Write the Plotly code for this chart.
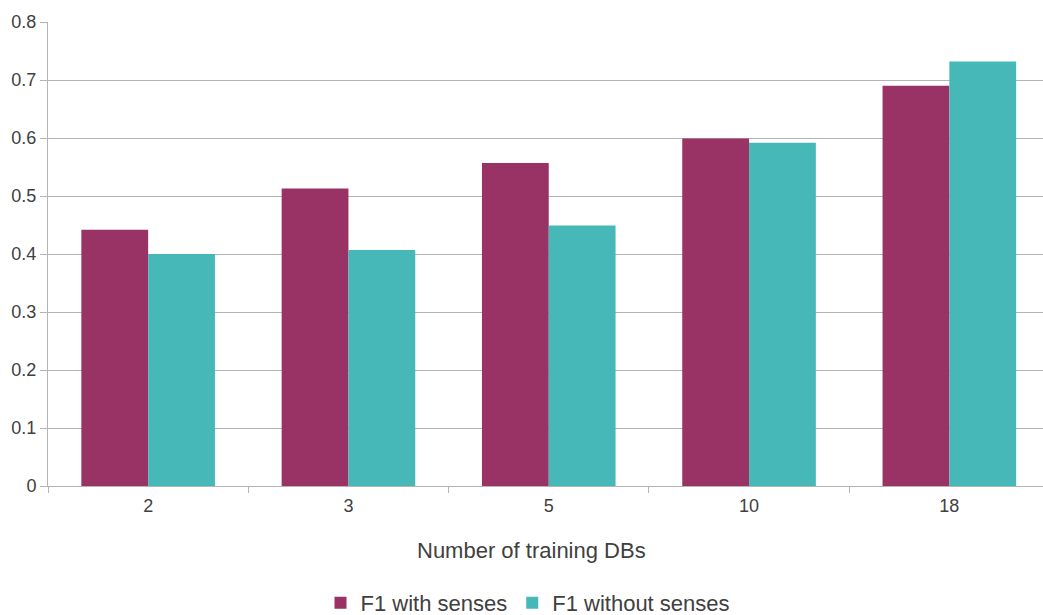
import plotly.graph_objects as go

# F1 scores by number of training databases
categories = ["2", "3", "5", "10", "18"]
f1_with_senses = [0.442, 0.513, 0.557, 0.599, 0.690]
f1_without_senses = [0.400, 0.407, 0.449, 0.592, 0.732]
y_ticks = [0, 0.1, 0.2, 0.3, 0.4, 0.5, 0.6, 0.7, 0.8]
y_tick_labels = ["0", "0.1", "0.2", "0.3", "0.4", "0.5", "0.6", "0.7", "0.8"]

MAGENTA = "#993366"
TEAL = "#47B8B8"
TEXT = "#404040"
GRID = "#b4b4b4"
FONT = "Liberation Sans, Arial, sans-serif"

fig = go.Figure()
fig.add_trace(go.Bar(x=categories, y=f1_with_senses, name="F1 with senses",
                     marker=dict(color=MAGENTA, line=dict(width=0))))
fig.add_trace(go.Bar(x=categories, y=f1_without_senses, name="F1 without senses",
                     marker=dict(color=TEAL, line=dict(width=0))))

W, H = 1043, 615
L, R, T, B = 48, 0, 22, 129
cat_px = 200.3
plot_w = W - L - R
x_hi = -0.5 + plot_w / cat_px

fig.update_layout(
    width=W, height=H,
    margin=dict(l=L, r=R, t=T, b=B, pad=0),
    paper_bgcolor="white", plot_bgcolor="white",
    font=dict(family=FONT, size=18, color=TEXT),
    barmode="group", bargap=0.333, bargroupgap=0,
    showlegend=True,
    legend=dict(orientation="h", xref="paper", x=(528 - L) / plot_w, xanchor="center",
                yref="container", y=(615 - 603) / 615, yanchor="middle",
                font=dict(size=22, color=TEXT), itemsizing="constant",
                traceorder="normal", bgcolor="rgba(0,0,0,0)"),
)

fig.update_xaxes(
    type="category", range=[-0.5, x_hi],
    showline=True, linecolor=GRID, linewidth=1,
    ticks="outside", tickson="boundaries", ticklen=6, tickcolor=GRID,
    tickfont=dict(size=18, color=TEXT), ticklabelstandoff=3,
    showgrid=False, zeroline=False,
)
fig.update_yaxes(
    range=[0, 0.8], tickvals=y_ticks, ticktext=y_tick_labels,
    showline=True, linecolor=GRID, linewidth=1,
    ticks="outside", ticklen=7, tickcolor=GRID,
    tickfont=dict(size=18, color=TEXT),
    showgrid=True, gridcolor=GRID, gridwidth=1,
    zeroline=False,
)

fig.add_annotation(
    text="Number of training DBs", xref="paper", yref="paper",
    x=(531 - L) / plot_w, y=-(550 - 486) / (H - T - B),
    xanchor="center", yanchor="middle", showarrow=False,
    font=dict(size=22, color=TEXT),
)

fig.write_html("out.html")
